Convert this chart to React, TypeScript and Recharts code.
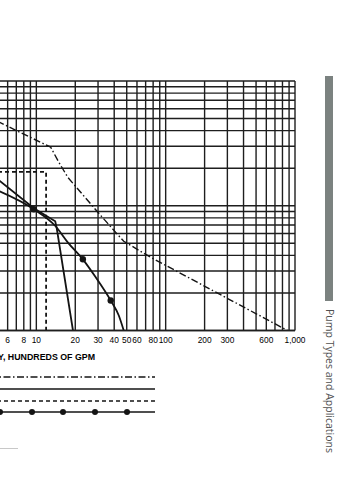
import React from "react";
import { LineChart, Line, XAxis, YAxis, CartesianGrid, Label } from "recharts";

// capacity (hundreds of gpm) grid / tick values, log scale
const xTicks = [1, 2, 3, 4, 5, 6, 7, 8, 9, 10, 20, 30, 40, 50, 60, 70, 80, 90, 100, 200, 300, 400, 500, 600, 700, 800, 900, 1000];
const xLabeled = [1, 2, 3, 4, 5, 6, 8, 10, 20, 30, 40, 50, 60, 80, 100, 200, 300, 600, 1000];
const yTicks = [1, 2, 3, 4, 5, 6, 7, 8, 9, 10, 20, 30, 40, 50, 60, 70, 80, 90, 100];

// dash-dot curve
const dashDotX = [5, 12.9, 14.9, 17.5, 24.1, 29.9, 41.1, 47.4, 76.6, 280, 875];
const dashDotY = [47.5, 29.5, 22.4, 16.9, 11.5, 8.87, 6.12, 5.19, 3.86, 1.88, 1.0];

// solid curve
const solidX = [5, 9.57, 14.0, 14.4, 19.2];
const solidY = [16.4, 9.55, 7.5, 6.54, 1.0];

// solid curve with dots
const dottedX = [5, 9.57, 14.1, 17.5, 22.9, 28.8, 37.6, 43.4, 47.4];
const dottedY = [13.3, 9.38, 6.85, 5.09, 3.72, 2.67, 1.74, 1.32, 1.0];
const dottedMarks = [false, true, false, false, true, false, true, false, false];

// dashed operating-point lines
const dashedX = [1, 11.9, 11.9];
const dashedY = [18.7, 18.7, 1];

const zip = (xs: number[], ys: number[]) => xs.map((x, i) => ({ x, y: ys[i], mark: dottedMarks[i] }));

const FONT = "'Liberation Sans', Arial, sans-serif";
const INK = "#141414";

const XTick = (props: any) => {
    const { x, y, payload } = props;
    if (!xLabeled.includes(payload.value)) return <g />;
    return (
        <text transform={`translate(${x},${y + 12.8}) scale(0.88,1)`} textAnchor="middle" fontSize={9.5} fontFamily={FONT} fill="#000">
            {payload.value.toLocaleString("en-US")}
        </text>
    );
};

const MarkDot = (props: any) => {
    const { cx, cy, payload, index } = props;
    if (!payload?.mark) return <g key={index} />;
    return <circle key={index} cx={cx} cy={cy} r={3.2} fill={INK} />;
};

export default function App() {
    return (
        <div style={{ position: "fixed", left: 0, top: 0, width: 363, height: 480, overflow: "hidden", background: "#fff" }}>
            <div style={{ position: "absolute", left: -94, top: 0 }}>
                <LineChart width={458} height={480} margin={{ top: 81, right: 69, left: 0, bottom: 129.5 }}>
                    <CartesianGrid stroke="#1e1e1e" strokeWidth={1.4} horizontal vertical
                        horizontalValues={yTicks} verticalValues={xTicks} />
                    <XAxis
                        dataKey="x"
                        type="number"
                        scale="log"
                        domain={[1, 1000]}
                        ticks={xTicks}
                        allowDataOverflow
                        height={20}
                        tickSize={0}
                        tickMargin={0}
                        tickLine={false}
                        axisLine={{ stroke: "#1e1e1e", strokeWidth: 1.5 }}
                        tick={<XTick />}
                        interval={0}
                    >
                        <Label
                            content={() => (
                                <text transform="translate(189,359.5) scale(0.98,1)" textAnchor="end" fontSize={9}
                                    fontWeight="bold" fontFamily={FONT} fill="#000">
                                    CAPACITY, HUNDREDS OF GPM
                                </text>
                            )}
                        />
                    </XAxis>
                    <YAxis
                        dataKey="y"
                        type="number"
                        scale="log"
                        domain={[1, 100]}
                        ticks={yTicks}
                        allowDataOverflow
                        width={1}
                        tick={() => <g />}
                        tickLine={false}
                        axisLine={false}
                        interval={0}
                    />
                    <Line data={zip(dashDotX, dashDotY)} dataKey="y" type="linear" stroke={INK} strokeWidth={1.4}
                        strokeDasharray="7 2.5 1.5 2.5" dot={false} isAnimationActive={false} />
                    <Line data={zip(dashedX, dashedY)} dataKey="y" type="linear" stroke={INK} strokeWidth={1.8}
                        strokeDasharray="4 3" dot={false} isAnimationActive={false} />
                    <Line data={zip(solidX, solidY)} dataKey="y" type="linear" stroke={INK} strokeWidth={1.8}
                        dot={false} isAnimationActive={false} />
                    <Line data={zip(dottedX, dottedY)} dataKey="y" type="monotone" stroke={INK} strokeWidth={1.8}
                        dot={<MarkDot />} isAnimationActive={false} />
                </LineChart>
            </div>

            {/* legend swatches, labels fall off the left edge of the page */}
            <svg style={{ position: "absolute", left: 0, top: 370 }} width={170} height={50}>
                <line x1={-10} x2={155} y1={7} y2={7} stroke={INK} strokeWidth={1.3} strokeDasharray="7 2.5 1.5 2.5" />
                <line x1={-10} x2={155} y1={19} y2={19} stroke={INK} strokeWidth={1.6} />
                <line x1={-10} x2={155} y1={31} y2={31} stroke={INK} strokeWidth={1.6} strokeDasharray="4 3" />
                <line x1={-10} x2={155} y1={42} y2={42} stroke={INK} strokeWidth={1.6} />
                {[0, 32, 63, 95, 127].map((cx) => (
                    <circle key={cx} cx={cx} cy={42} r={3} fill={INK} />
                ))}
            </svg>
            <div style={{ position: "absolute", left: 0, top: 448, width: 18, height: 1, background: "#c8c8c8" }} />

            {/* side tab */}
            <div style={{ position: "absolute", left: 325, top: 76, width: 8, height: 225, background: "#7b8280" }} />
            <div
                style={{
                    position: "absolute",
                    left: 336,
                    top: 309,
                    transformOrigin: "0 0",
                    transform: "rotate(90deg)",
                    whiteSpace: "nowrap",
                    fontFamily: "'Open Sans', 'Noto Sans', sans-serif",
                    fontSize: 10.5,
                    color: "#505050",
                    lineHeight: "12px",
                }}
            >
                Pump Types and Applications
            </div>
        </div>
    );
}
